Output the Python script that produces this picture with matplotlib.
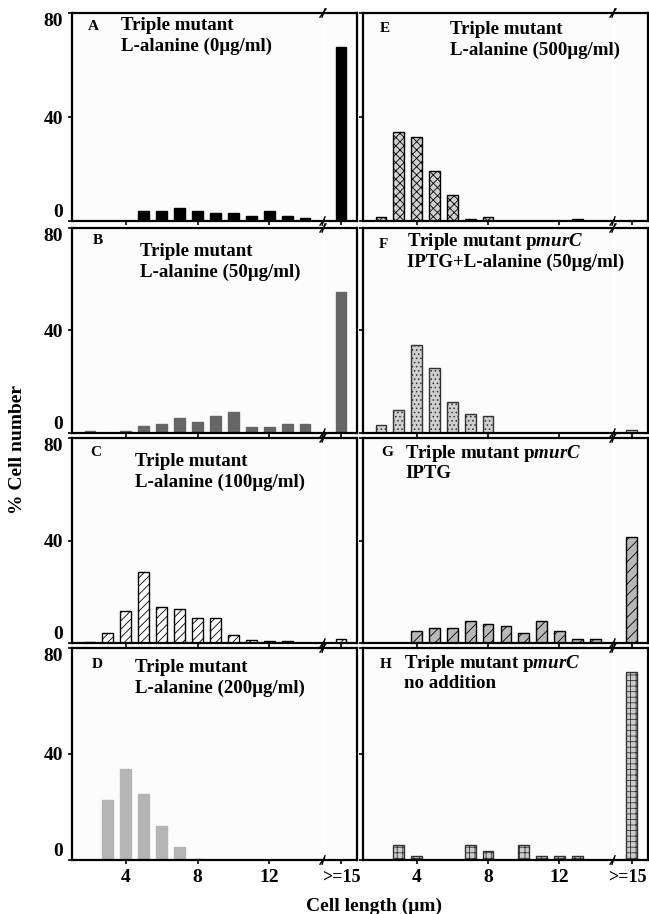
import numpy as np
import matplotlib
matplotlib.use("Agg")
import matplotlib.pyplot as plt
from matplotlib.transforms import ScaledTranslation

plt.rcParams['font.family'] = ['Liberation Serif', 'DejaVu Serif']
plt.rcParams['font.weight'] = 'bold'
plt.rcParams['mathtext.fontset'] = 'custom'
plt.rcParams['mathtext.it'] = 'Liberation Serif:italic:bold'
plt.rcParams['mathtext.rm'] = 'Liberation Serif:bold'
plt.rcParams['hatch.linewidth'] = 0.6

# data (% cells per length bin, last bin = >=15 um)
A_x = [5, 6, 7, 8, 9, 10, 11, 12, 13, 14]
A_y = [4, 4, 5, 4, 3, 3, 2, 4, 2, 1]
A_15 = 67

B_x = [2, 4, 5, 6, 7, 8, 9, 10, 11, 12, 13, 14]
B_y = [0.6, 0.6, 2.7, 3.7, 5.9, 4.4, 6.8, 8.1, 2.4, 2.4, 3.7, 3.7]
B_15 = 55

C_x = [2, 3, 4, 5, 6, 7, 8, 9, 10, 11, 12, 13]
C_y = [0.5, 3.9, 12.5, 27.6, 14.1, 13.3, 9.7, 9.7, 3.0, 1.3, 0.7, 0.7]
C_15 = 1.5

D_x = [3, 4, 5, 6, 7, 8]
D_y = [22.5, 34.4, 24.8, 12.9, 4.9, 0.5]
D_15 = 0

E_x = [2, 3, 4, 5, 6, 7, 8, 13]
E_y = [1.7, 34.1, 32.2, 19.2, 10.0, 0.9, 1.7, 0.9]
E_15 = 0

F_x = [2, 3, 4, 5, 6, 7, 8]
F_y = [3.1, 8.8, 34.5, 25.5, 12.2, 7.6, 6.8]
F_15 = 1.3

G_x = [4, 5, 6, 7, 8, 9, 10, 11, 12, 13, 14]
G_y = [4.6, 5.7, 5.7, 8.6, 7.4, 6.6, 3.8, 8.6, 4.6, 1.7, 1.7]
G_15 = 41.4

H_x = [3, 4, 7, 8, 10, 11, 12, 13]
H_y = [5.6, 1.6, 5.6, 3.5, 5.6, 1.6, 1.6, 1.6]
H_15 = 71

yticks = [0, 40, 80]
xticks = [4, 8, 12]
xticklabels = ['4', '8', '12']

panels = [
    # letter, x, y, >=15, title lines, bar style, column, row
    ('A', A_x, A_y, A_15, ['Triple mutant', 'L-alanine (0\u03bcg/ml)'],
     dict(color='black', edgecolor='black'), 0, 0),
    ('B', B_x, B_y, B_15, ['Triple mutant', 'L-alanine (50\u03bcg/ml)'],
     dict(color='#666666', edgecolor='#666666'), 0, 1),
    ('C', C_x, C_y, C_15, ['Triple mutant', 'L-alanine (100\u03bcg/ml)'],
     dict(color='white', edgecolor='black', hatch='////'), 0, 2),
    ('D', D_x, D_y, D_15, ['Triple mutant', 'L-alanine (200\u03bcg/ml)'],
     dict(color='#b5b5b5', edgecolor='#b5b5b5'), 0, 3),
    ('E', E_x, E_y, E_15, ['Triple mutant', 'L-alanine (500\u03bcg/ml)'],
     dict(color='#d0d0d0', edgecolor='black', hatch='xxxx'), 1, 0),
    ('F', F_x, F_y, F_15, [r'Triple mutant p$\it{murC}$', 'IPTG+L-alanine (50\u03bcg/ml)'],
     dict(color='#cfcfcf', edgecolor='#333333', hatch='....'), 1, 1),
    ('G', G_x, G_y, G_15, [r'Triple mutant p$\it{murC}$', 'IPTG'],
     dict(color='#b8b8b8', edgecolor='black', hatch='///'), 1, 2),
    ('H', H_x, H_y, H_15, [r'Triple mutant p$\it{murC}$', 'no addition'],
     dict(color='#cccccc', edgecolor='#333333', hatch='+++'), 1, 3),
]

W, Hpx = 649, 914
fig = plt.figure(figsize=(W / 100, Hpx / 100), dpi=100)

col_main = [(72, 323), (363, 613)]
col_small = [(325, 357), (615, 648)]
rows = [(13, 221), (228, 433), (438, 643), (648, 860)]
letter_pos = {'A': (88, 27), 'B': (93, 241), 'C': (90, 452), 'D': (92, 664),
              'E': (380, 29), 'F': (379, 244), 'G': (381, 452), 'H': (380, 665)}
title_pos = {'A': (121, 26), 'B': (140, 252), 'C': (135, 462), 'D': (135, 668),
             'E': (450, 30), 'F': (407, 242), 'G': (405, 453), 'H': (404, 663)}


def rect(x0, x1, y0, y1):
    return [x0 / W, 1 - y1 / Hpx, (x1 - x0) / W, (y1 - y0) / Hpx]


lw = 1.6
for letter, xs, ys, y15, lines, style, col, row in panels:
    y0, y1 = rows[row]
    ax = fig.add_axes(rect(*col_main[col], y0, y1))
    ax2 = fig.add_axes(rect(*col_small[col], y0, y1))
    for a in (ax, ax2):
        a.set_ylim(0, 80)
        a.set_facecolor('#fcfcfc')
        for s in a.spines.values():
            s.set_linewidth(lw)
        a.tick_params(direction='out', length=3, width=1.2, labelsize=14)
    ax.bar(xs, ys, width=0.6, linewidth=1.0, **style)
    if y15 > 0:
        ax2.bar([15], [y15], width=0.6, linewidth=1.0, **style)
    ax.set_xlim(1, 15)
    ax2.set_xlim(14.1, 15.9)
    ax.spines['right'].set_visible(False)
    ax2.spines['left'].set_visible(False)
    ax2.set_yticks([])
    ax.set_yticks(yticks)
    ax.set_xticks(xticks)
    ax2.set_xticks([15])
    if col == 0:
        labs = ax.set_yticklabels(['0', '40', '80'])
        labs[0].set_va('bottom')
        labs[2].set_va('top')
    else:
        ax.set_yticklabels([])
    if row == 3:
        ax.set_xticklabels(xticklabels)
        big = ax2.set_xticklabels(['>=15'], fontsize=13)
        if col == 1:
            for lab in big:
                lab.set_transform(lab.get_transform() +
                                  ScaledTranslation(-0.045, 0, fig.dpi_scale_trans))
    else:
        ax.set_xticklabels([])
        ax2.set_xticklabels([])

    # break marks
    d = 0.012
    kw = dict(transform=ax.transAxes, color='black', lw=1.0, clip_on=False)
    for yy in (0, 1):
        ax.plot([1 - d, 1 + d], [yy - 0.02, yy + 0.02], **kw)
    kw2 = dict(transform=ax2.transAxes, color='black', lw=1.0, clip_on=False)
    for yy in (0, 1):
        ax2.plot([-0.09, 0.0], [yy - 0.02, yy + 0.02], **kw2)

    lx, ly = letter_pos[letter]
    fig.text(lx / W, 1 - ly / Hpx, letter, fontsize=11, va='center', ha='left')
    tx, ty = title_pos[letter]
    for i, line in enumerate(lines):
        fig.text(tx / W, 1 - (ty + 20.5 * i) / Hpx, line, fontsize=13.6,
                 va='center', ha='left')

fig.text(18 / W, 1 - 450 / Hpx, '% Cell number', rotation=90, fontsize=14,
         va='center', ha='center')
fig.text(374 / W, 1 - 906 / Hpx, 'Cell length (\u03bcm)', fontsize=14,
         va='center', ha='center')

fig.savefig('out.png', dpi=100)
